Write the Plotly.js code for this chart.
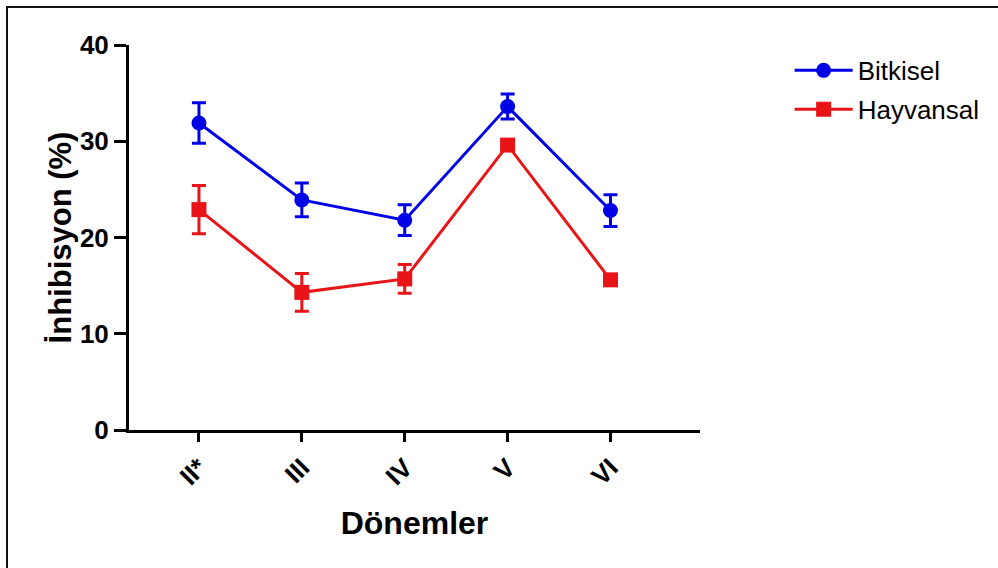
<!DOCTYPE html>
<html><head><meta charset="utf-8">
<script src="https://cdn.plot.ly/plotly-3.0.1.min.js"></script>
<style>
html,body{margin:0;padding:0;background:#fff;}
#wrap{position:relative;width:998px;height:568px;}
#frame{position:absolute;left:6px;top:6px;width:1000px;height:600px;border-top:2px solid #111;border-left:2px solid #111;pointer-events:none;}
#chart{position:absolute;left:0;top:0;width:998px;height:568px;}
</style>
</head><body>
<div id="wrap"><div id="chart"></div><div id="frame"></div></div>
<script>
const categories = ["II*", "III", "IV", "V", "VI"];
const bitkisel = [31.9, 23.9, 21.8, 33.6, 22.8];
const bitkiselErr = [2.1, 1.75, 1.6, 1.3, 1.65];
const hayvansal = [22.9, 14.3, 15.7, 29.6, 15.6];
const hayvansalErr = [2.5, 1.95, 1.5, 0.4, 0.5];

const blue = "rgb(0,0,230)";
const red = "rgb(232,20,24)";
const idx = categories.map((c, i) => i);
const FONT = "Liberation Sans, Arial, sans-serif";

const traces = [
  {
    x: idx, y: bitkisel, name: "Bitkisel", type: "scatter", mode: "lines+markers",
    legendgroup: "a",
    line: {color: blue, width: 3},
    marker: {symbol: "circle", size: 15, color: blue},
    error_y: {type: "data", array: bitkiselErr, visible: true, color: blue, thickness: 3, width: 7}
  },
  {
    x: idx, y: hayvansal, name: "Hayvansal", type: "scatter", mode: "lines+markers",
    legendgroup: "b",
    line: {color: red, width: 3},
    marker: {symbol: "square", size: 15, color: red},
    error_y: {type: "data", array: hayvansalErr, visible: true, color: red, thickness: 3, width: 7}
  }
];

const layout = {
  width: 998, height: 568,
  margin: {l: 129, r: 298, t: 45, b: 137.5, pad: 0},
  paper_bgcolor: "#fff", plot_bgcolor: "#fff",
  font: {family: FONT, color: "#000"},
  showlegend: true,
  legend: {
    x: 1.157, y: 0.995, xanchor: "left", yanchor: "top",
    font: {size: 26, family: FONT, color: "#000"},
    itemwidth: 58,
    traceorder: "grouped", tracegroupgap: 2, bgcolor: "rgba(0,0,0,0)"
  },
  xaxis: {
    range: [-0.68, 4.87],
    tickmode: "array", tickvals: idx, ticktext: categories,
    tickangle: -45,
    tickfont: {size: 26, family: FONT, weight: "bold"},
    ticks: "outside", ticklen: 9, tickwidth: 3, tickcolor: "#000",
    showline: true, linewidth: 3, linecolor: "#000",
    showgrid: false, zeroline: false,
    title: {text: "Dönemler", font: {size: 32, weight: "bold"}, standoff: 22}
  },
  yaxis: {
    range: [0, 40],
    tickvals: [0, 10, 20, 30, 40],
    tickfont: {size: 26, family: FONT, weight: "bold"},
    ticks: "outside", ticklen: 12, tickwidth: 3, tickcolor: "#000",
    showline: true, linewidth: 3, linecolor: "#000",
    showgrid: false, zeroline: false,
    title: {text: "İnhibisyon (%)", font: {size: 31, weight: "bold"}, standoff: 0}
  }
};

Plotly.newPlot("chart", traces, layout, {displayModeBar: false, staticPlot: true});
</script>
</body></html>
